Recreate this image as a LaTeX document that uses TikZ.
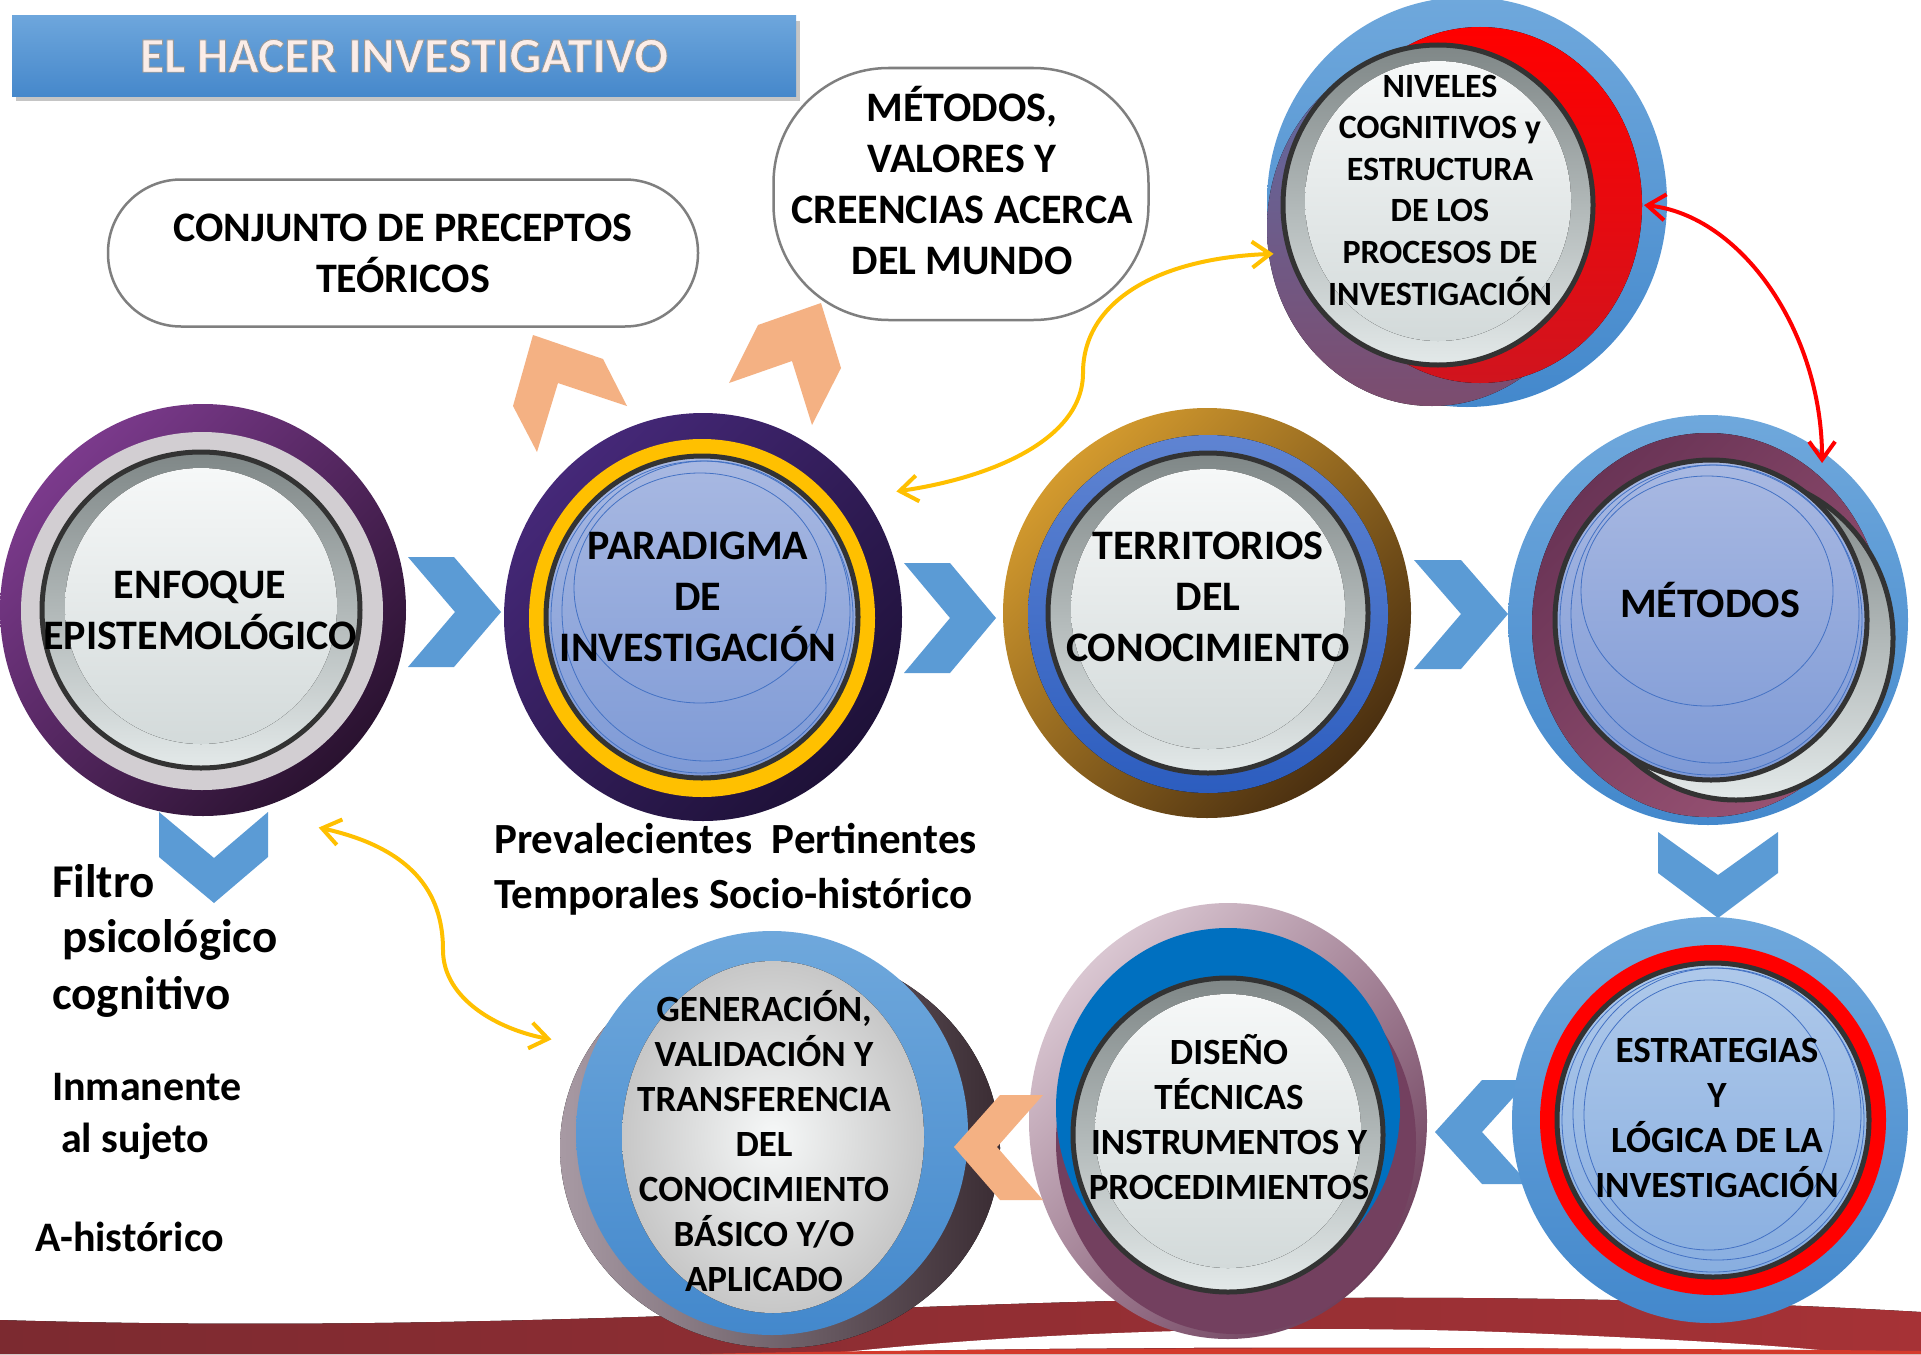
\documentclass[tikz,border=0pt]{standalone}
\usepackage{fontspec}
\setmainfont{Carlito}
\usetikzlibrary{shapes.geometric,arrows.meta,calc,shadows}

\definecolor{chevblue}{HTML}{5B9BD5}
\definecolor{peach}{HTML}{F4B183}
\definecolor{amber}{HTML}{FFC000}
\definecolor{glassline}{HTML}{333333}
\definecolor{rimtop}{HTML}{7F8787}
\definecolor{rimbot}{HTML}{E3E9E9}
\definecolor{coretop}{HTML}{F6F8F8}
\definecolor{corebot}{HTML}{D3DADA}
\definecolor{ringblueA}{HTML}{6FA8DC}
\definecolor{ringblueB}{HTML}{4388CC}
\definecolor{coreblueA}{HTML}{A9B9E2}
\definecolor{coreblueB}{HTML}{7E9AD6}
\definecolor{estcoreA}{HTML}{AFC9EA}
\definecolor{estcoreB}{HTML}{88AEE0}
\definecolor{ripplecol}{HTML}{4472C4}
\definecolor{enfA}{HTML}{7B3A8C}
\definecolor{enfB}{HTML}{2A1230}
\definecolor{enfgray}{HTML}{D2CED2}
\definecolor{parA}{HTML}{452878}
\definecolor{parB}{HTML}{1E1138}
\definecolor{terA}{HTML}{D39A2E}
\definecolor{terB}{HTML}{4A2F10}
\definecolor{terblueA}{HTML}{5F84D2}
\definecolor{terblueB}{HTML}{2C5DBF}
\definecolor{metA}{HTML}{6A3456}
\definecolor{metB}{HTML}{985273}
\definecolor{nivA}{HTML}{5E6CA6}
\definecolor{nivB}{HTML}{7C4C6E}
\definecolor{redA}{HTML}{FF0000}
\definecolor{redB}{HTML}{D0141E}
\definecolor{disA}{HTML}{D9C6D1}
\definecolor{disB}{HTML}{6E3F5C}
\definecolor{dismaroon}{HTML}{73405F}
\definecolor{disblue}{HTML}{0070C0}
\definecolor{genA}{HTML}{A89AA4}
\definecolor{genB}{HTML}{3A2C33}
\definecolor{bubbleline}{HTML}{7F7F7F}
\definecolor{titleA}{HTML}{6DA6DC}
\definecolor{titleB}{HTML}{4688CB}
\definecolor{titlefill}{HTML}{FBEDE8}
\definecolor{swooshA}{HTML}{7C2A30}
\definecolor{swooshB}{HTML}{A63236}
\definecolor{swooshred}{HTML}{D43A2C}

\tikzset{
  disc/.style={ellipse, inner sep=0pt, outer sep=0pt},
  glassrim/.style={draw=glassline, line width=5pt, top color=rimtop, bottom color=rimbot},
  glasscore/.style={top color=coretop, bottom color=corebot},
  bluecore/.style={draw=glassline, line width=5pt, top color=coreblueA, bottom color=coreblueB},
  ripple/.style={draw=ripplecol, line width=0.8pt},
  bigtxt/.style={font=\bfseries\fontsize{42}{51}\selectfont, align=center},
  midtxt/.style={font=\bfseries\fontsize{37}{45}\selectfont, align=center},
  smalltxt/.style={font=\bfseries\fontsize{34}{41.6}\selectfont, align=center},
  sidetxt/.style={font=\bfseries\fontsize{42}{50}\selectfont, anchor=base west, inner sep=0pt},
  sidebig/.style={sidetxt, font=\bfseries\fontsize{47}{56}\selectfont},
  bubble/.style={draw=bubbleline, line width=2.5pt, fill=white, align=center,
    font=\bfseries\fontsize{42}{51}\selectfont},
  link/.style={line width=4pt, {Straight Barb[length=18pt,width=26pt]}-{Straight Barb[length=18pt,width=26pt]}},
}

\begin{document}
\begin{tikzpicture}[x=1pt, y=-1pt]
\useasboundingbox (0,0) rectangle (1921,1354);
\fill[white] (0,0) rectangle (1921,1354);

% red band at the bottom
\fill[left color=swooshA, right color=swooshB] (0,1320) .. controls (500,1335) and (900,1300) .. (1300,1298)
  .. controls (1600,1296) and (1800,1305) .. (1921,1312) -- (1921,1354) -- (0,1354) -- cycle;
\fill[white] (845,1352) .. controls (1050,1330) and (1300,1325) .. (1500,1332)
  .. controls (1650,1338) and (1780,1345) .. (1838,1352) .. controls (1500,1346) and (1100,1346) .. (845,1352) -- cycle;
\fill[swooshred] (700,1354) .. controls (1000,1347) and (1600,1347) .. (1921,1351) -- (1921,1354) -- cycle;

% title
\node[minimum width=784, minimum height=80, top color=titleA, bottom color=titleB,
  drop shadow={opacity=0.45, shadow xshift=4pt, shadow yshift=-5pt}] (title) at (404,56)
  {\bfseries\fontsize{50}{60}\selectfont\color{titlefill}\special{pdf:literal direct 2 Tr 0.9 w 0.6 0.6 0.6 RG}EL HACER INVESTIGATIVO\special{pdf:literal direct 0 Tr}};

% bubbles
\node[bubble, minimum width=590, minimum height=147, rounded corners=73] (prec) at (403,253)
  {CONJUNTO DE PRECEPTOS\\TEÓRICOS};
\node[bubble, minimum width=375, minimum height=252, rounded corners=115] (crec) at (961,194) {};
\node[bigtxt] (crec-t) at (962,181) {MÉTODOS,\\VALORES Y\\CREENCIAS ACERCA\\DEL MUNDO};

% peach chevrons
\fill[peach] (533,335) -- (603,359) -- (627,406) -- (558,383) -- (537,452) -- (513,406) -- cycle;
\fill[peach] (758,325) -- (821,303) -- (841,368) -- (812,425) -- (792,361) -- (729,383) -- cycle;

% blue chevrons
\fill[chevblue] (408,557) -- (454,557) -- (501,612) -- (454,667) -- (408,667) -- (455,612) -- cycle;
\fill[chevblue] (904,563) -- (950,563) -- (996,618) -- (950,673) -- (904,673) -- (950,618) -- cycle;
\fill[chevblue] (1414,560) -- (1461,560) -- (1508,614) -- (1461,669) -- (1414,669) -- (1461,614) -- cycle;
\fill[chevblue] (159,812) -- (214,858) -- (268,812) -- (268,857) -- (214,903) -- (159,857) -- cycle;
\fill[chevblue] (1658,832) -- (1718,875) -- (1778,832) -- (1778,873) -- (1718,918) -- (1658,873) -- cycle;
\fill[chevblue] (1529,1080) -- (1482,1080) -- (1435,1132) -- (1482,1184) -- (1529,1184) -- (1482,1132) -- cycle;

% enfoque
\node[disc, minimum width=406, minimum height=412, top color=enfA, bottom color=enfB, shading angle=45] (enf) at (203,610) {};
\fill[enfgray] (202,611) ellipse [x radius=181, y radius=179];
\filldraw[glassrim] (201,610) ellipse [x radius=159, y radius=158];
\fill[glasscore] (201,606) ellipse [x radius=136, y radius=138];
\node[bigtxt] (enf-t) at (200,610) {ENFOQUE\\EPISTEMOLÓGICO};

% paradigma
\node[disc, minimum width=398, minimum height=408, top color=parA, bottom color=parB, shading angle=45] (par) at (703,617) {};
\fill[amber] (702,618) ellipse [x radius=173, y radius=179];
\filldraw[bluecore] (702,617) ellipse [x radius=156, y radius=161];
\draw[ripple] (702,617) ellipse [x radius=151, y radius=156];
\draw[ripple] (706,611) ellipse [x radius=144, y radius=150];
\draw[ripple] (700,588) ellipse [x radius=126, y radius=115];
\node[bigtxt] (par-t) at (698,597) {PARADIGMA\\DE\\INVESTIGACIÓN};

% territorios
\node[disc, minimum width=408, minimum height=410, top color=terA, bottom color=terB, shading angle=45] (ter) at (1207,613) {};
\fill[top color=terblueA, bottom color=terblueB] (1208,614) ellipse [x radius=180, y radius=179];
\filldraw[glassrim] (1208,613) ellipse [x radius=160, y radius=160];
\fill[glasscore] (1208,609) ellipse [x radius=137, y radius=140];
\node[bigtxt] (ter-t) at (1208,597) {TERRITORIOS\\DEL\\CONOCIMIENTO};

% metodos
\node[disc, minimum width=400, minimum height=410, top color=ringblueA, bottom color=ringblueB] (met) at (1708,620) {};
\fill[top color=metA, bottom color=metB, shading angle=45] (1708,625) ellipse [x radius=176, y radius=192];
\filldraw[draw=glassline, line width=5pt, top color=rimtop, bottom color=rimbot] (1736,638) ellipse [x radius=157, y radius=162];
\filldraw[bluecore] (1711,620) ellipse [x radius=156, y radius=160];
\draw[ripple] (1711,620) ellipse [x radius=151, y radius=155];
\draw[ripple] (1715,614) ellipse [x radius=144, y radius=149];
\draw[ripple] (1707,591) ellipse [x radius=126, y radius=115];
\node[bigtxt] (met-t) at (1710,600) {MÉTODOS};

% niveles
\node[disc, minimum width=400, minimum height=410, top color=ringblueA, bottom color=ringblueB] (niv) at (1467,202) {};
\fill[top color=nivA, bottom color=nivB] (1432,228) ellipse [x radius=165, y radius=178];
\fill[top color=redA, bottom color=redB] (1480,205) ellipse [x radius=162, y radius=178];
\filldraw[glassrim] (1438,205) ellipse [x radius=155, y radius=160];
\fill[glasscore] (1438,201) ellipse [x radius=133, y radius=140];
\node[smalltxt] (niv-t) at (1440,190) {NIVELES\\COGNITIVOS y\\ESTRUCTURA\\DE LOS\\PROCESOS DE\\INVESTIGACIÓN};

% estrategias
\node[disc, minimum width=396, minimum height=406, top color=ringblueA, bottom color=ringblueB] (est) at (1710,1120) {};
\fill[redA] (1713,1120) ellipse [x radius=173, y radius=175];
\filldraw[draw=glassline, line width=5pt, top color=estcoreA, bottom color=estcoreB] (1713,1120) ellipse [x radius=156, y radius=157];
\draw[ripple] (1713,1120) ellipse [x radius=151, y radius=152];
\draw[ripple] (1717,1114) ellipse [x radius=144, y radius=146];
\draw[ripple] (1709,1115) ellipse [x radius=125, y radius=135];
\node[midtxt] (est-t) at (1717,1118) {ESTRATEGIAS\\Y\\LÓGICA DE LA\\INVESTIGACIÓN};

% diseno
\node[disc, minimum width=398, minimum height=436, top color=disA, bottom color=disB, shading angle=45] (dis) at (1228,1121) {};
\fill[dismaroon] (1236,1142) ellipse [x radius=180, y radius=192];
\fill[disblue] (1228,1108) ellipse [x radius=172, y radius=180];
\filldraw[glassrim] (1228,1135) ellipse [x radius=155, y radius=157];
\fill[glasscore] (1228,1131) ellipse [x radius=133, y radius=137];
\node[midtxt] (dis-t) at (1229,1117) {DISEÑO\\TÉCNICAS\\INSTRUMENTOS Y\\PROCEDIMIENTOS};

% generacion
\fill[left color=genA, right color=genB] (780,1148) ellipse [x radius=220, y radius=200];
\node[disc, minimum width=392, minimum height=404, top color=ringblueA, bottom color=ringblueB] (gen) at (772,1133) {};
\fill[inner color=coretop, outer color=black!22] (773,1137) ellipse [x radius=151, y radius=176];
\node[midtxt] (gen-t) at (764,1141) {GENERACIÓN,\\VALIDACIÓN Y\\TRANSFERENCIA\\DEL\\CONOCIMIENTO\\BÁSICO Y/O\\APLICADO};

% peach chevron between the lower circles
\fill[peach] (1000,1095) -- (1043,1095) -- (997,1147) -- (1043,1200) -- (1000,1200) -- (954,1147) -- cycle;

% side texts
\node[sidebig] (filtro) at (52,897) {Filtro};
\node[sidebig] (psico) at (62,952) {psicológico};
\node[sidebig] (cogn) at (52,1009) {cognitivo};
\node[sidetxt] (inma) at (52,1100) {Inmanente};
\node[sidetxt] (suj) at (61,1152) {al sujeto};
\node[sidetxt] (ahist) at (35,1251) {A-histórico};
\node[sidetxt, font=\bfseries\fontsize{43}{50}\selectfont] (prev) at (494,853) {Prevalecientes\ \ Pertinentes};
\node[sidetxt, font=\bfseries\fontsize{43}{50}\selectfont] (temp) at (494,908) {Temporales Socio-histórico};

% links
\draw[link, amber] ($(par.center)!1.15!(par.33)$) .. controls (990,478) and (1083,440) .. (1083,373)
  .. controls (1083,300) and (1160,258) .. (niv.195);
\draw[link, redA] ($(niv.center)!0.885!(niv.-1)$) .. controls (1740,215) and (1822,330) .. ($(met.center)!0.955!(met.54)$);
\draw[link, amber] ($(enf.center)!1.2!(enf.-62)$) .. controls (420,850) and (443,900) .. (443,950)
  .. controls (443,1000) and (500,1030) .. ($(gen.center)!1.217!(gen.157)$);
\end{tikzpicture}
\end{document}
